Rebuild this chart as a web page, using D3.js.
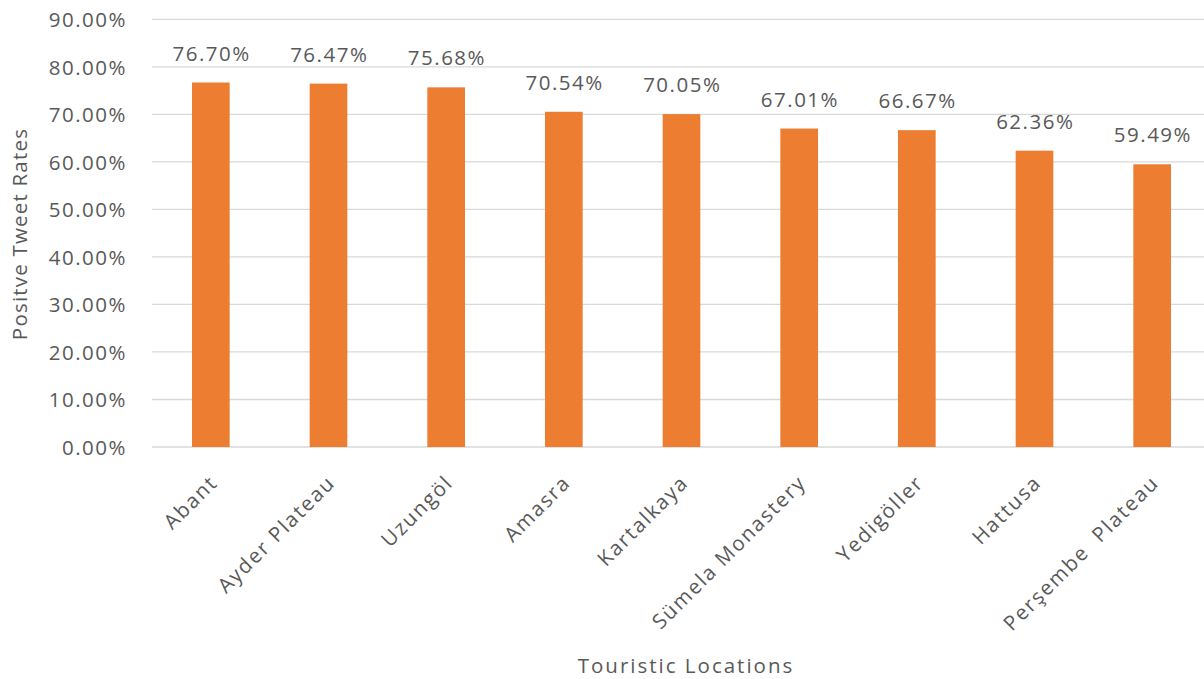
<!DOCTYPE html>
<html>
<head>
<meta charset="utf-8">
<script src="https://cdn.jsdelivr.net/npm/d3@7"></script>
<style>
  html, body { margin: 0; padding: 0; background: #fff; }
  svg text { font-family: "Open Sans", "Noto Sans", sans-serif; fill: #595959; white-space: pre; }
</style>
</head>
<body>
<svg id="chart" width="1204" height="679"></svg>
<script>
// Share of positive tweets per touristic location
const locations = ["Abant", "Ayder Plateau", "Uzungöl", "Amasra", "Kartalkaya",
                   "Sümela Monastery", "Yedigöller", "Hattusa", "Perşembe  Plateau"];
const positiveRates = [76.70, 76.47, 75.68, 70.54, 70.05, 67.01, 66.67, 62.36, 59.49];
const yTicks = [0, 10, 20, 30, 40, 50, 60, 70, 80, 90];
const yTitle = "Positve Tweet Rates";
const xTitle = "Touristic Locations";

const svg = d3.select("#chart");
const plot = { left: 152, right: 1211, top: 19.3, bottom: 447 };
const fontSize = 20.5;
const spacing = 1.5;

const x = d3.scaleBand()
  .domain(locations)
  .range([plot.left, plot.right])
  .paddingInner(0.68)
  .paddingOuter(0.34);

const y = d3.scaleLinear()
  .domain([0, 90])
  .range([plot.bottom, plot.top]);

// Horizontal gridlines
svg.append("g")
  .selectAll("line")
  .data(yTicks)
  .join("line")
  .attr("x1", plot.left)
  .attr("x2", 1204)
  .attr("y1", d => y(d))
  .attr("y2", d => y(d))
  .attr("stroke", "#d9d9d9")
  .attr("stroke-width", 1.3);

// Y axis tick labels
const yAxis = d3.axisLeft(y)
  .tickValues(yTicks)
  .tickSize(0)
  .tickPadding(0)
  .tickFormat(d => d.toFixed(2) + "%");
const gy = svg.append("g")
  .attr("transform", `translate(127,0)`)
  .call(yAxis);
gy.select(".domain").remove();
gy.selectAll("text")
  .attr("font-size", fontSize)
  .attr("letter-spacing", spacing)
  .attr("dy", "0.36em")
  .style("fill", "#595959");

// Bars
svg.append("g")
  .selectAll("rect")
  .data(positiveRates)
  .join("rect")
  .attr("x", (d, i) => x(locations[i]))
  .attr("width", x.bandwidth())
  .attr("y", d => y(d))
  .attr("height", d => y(0) - y(d))
  .attr("fill", "#ed7d31");

// Value labels above bars
svg.append("g")
  .selectAll("text")
  .data(positiveRates)
  .join("text")
  .attr("x", (d, i) => x(locations[i]) + x.bandwidth() / 2 + spacing / 2)
  .attr("y", d => y(d) - 22)
  .attr("text-anchor", "middle")
  .attr("font-size", fontSize)
  .attr("letter-spacing", spacing)
  .text(d => d.toFixed(2) + "%");

// X axis category labels, rotated
const xAxis = d3.axisBottom(x).tickSize(0).tickPadding(0);
const gx = svg.append("g")
  .attr("transform", `translate(0,${plot.bottom})`)
  .call(xAxis);
gx.select(".domain").remove();
gx.selectAll("text")
  .attr("font-size", fontSize)
  .attr("letter-spacing", 1.8)
  .attr("text-anchor", "end")
  .attr("dy", 0)
  .attr("y", 0)
  .attr("transform", "translate(8,37) rotate(-45)")
  .style("fill", "#595959")
  .style("white-space", "pre");

// Axis titles
svg.append("text")
  .attr("transform", "translate(27,234) rotate(-90)")
  .attr("text-anchor", "middle")
  .attr("font-size", fontSize)
  .attr("letter-spacing", 1.2)
  .text(yTitle);

svg.append("text")
  .attr("x", 686)
  .attr("y", 673)
  .attr("text-anchor", "middle")
  .attr("font-size", fontSize)
  .attr("letter-spacing", 2)
  .text(xTitle);
</script>
</body>
</html>
